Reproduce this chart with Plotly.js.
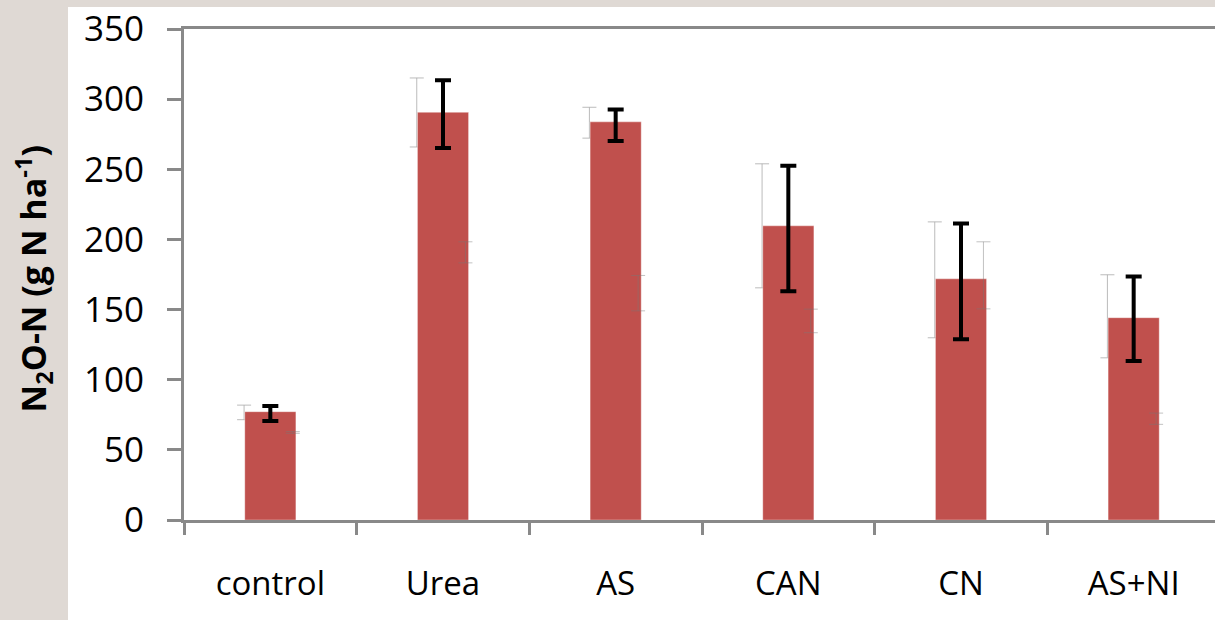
<!DOCTYPE html>
<html>
<head>
<meta charset="utf-8">
<script src="https://cdn.plot.ly/plotly-3.0.1.min.js"></script>
<style>
html,body{margin:0;padding:0;overflow:hidden;background:#DFD9D4;}
#chart{width:1225px;height:620px;}
</style>
</head>
<body>
<div id="chart"></div>
<script>
// Data
const categories = ["control", "Urea", "AS", "CAN", "CN", "AS+NI"];
const meanValues = [77.2, 290.6, 283.8, 209.7, 171.9, 144.2];
const errPlus    = [4.0, 22.8, 8.9, 42.9, 39.4, 29.4];
const errMinus   = [6.7, 25.4, 13.6, 46.6, 43.0, 30.9];

// faint secondary error bars (left of each bar)
const ghostLeftMean = [76.7, 290.5, 283.2, 209.7, 171.2, 145.2];
const ghostLeftErr  = [5.2, 24.6, 11.0, 44.2, 41.3, 29.6];
// faint secondary error bars (right of each bar)
const ghostRightMean = [62.4, 190.8, 161.7, 141.9, 174.4, 72.2];
const ghostRightErr  = [0.6, 7.5, 12.6, 8.4, 23.9, 4.0];

const yTicks = [0, 50, 100, 150, 200, 250, 300, 350];

const barColor = "#C0504D";
const axisColor = "#898989";
const fontFam = "'Open Sans', 'Liberation Sans', sans-serif";

const ghostLeft = {
  type: "bar", x: categories, y: ghostLeftMean,
  width: 0.004, offset: -0.154,
  marker: {color: "rgba(0,0,0,0)"},
  error_y: {type: "data", array: ghostLeftErr, visible: true,
            color: "rgba(170,170,170,0.8)", thickness: 1, width: 7},
  hoverinfo: "skip", showlegend: false
};
const mainBars = {
  type: "bar", x: categories, y: meanValues,
  width: 0.296,
  marker: {color: barColor, line: {color: "rgba(255,255,255,0.35)", width: 1}},
  error_y: {type: "data", symmetric: false, array: errPlus, arrayminus: errMinus,
            visible: true, color: "#000000", thickness: 4, width: 8},
  showlegend: false
};
const ghostRight = {
  type: "bar", x: categories, y: ghostRightMean,
  width: 0.004, offset: 0.128,
  marker: {color: "rgba(0,0,0,0)"},
  error_y: {type: "data", array: ghostRightErr, visible: true,
            color: "rgba(120,120,120,0.45)", thickness: 1, width: 7},
  hoverinfo: "skip", showlegend: false
};

const layout = {
  width: 1225, height: 620,
  margin: {l: 184, r: 5, t: 29, b: 100, pad: 0},
  paper_bgcolor: "#DFD9D4",
  plot_bgcolor: "#FFFFFF",
  barmode: "overlay",
  showlegend: false,
  font: {family: fontFam, color: "#000000", size: 34},
  xaxis: {
    type: "category", range: [-0.5, 5.5],
    showline: true, linecolor: axisColor, linewidth: 3, mirror: true,
    ticks: "outside", tickson: "boundaries", ticklen: 12, tickwidth: 3, tickcolor: axisColor,
    tickfont: {family: fontFam, size: 33, color: "#000"},
    ticklabelstandoff: 32,
    showgrid: false, zeroline: false, fixedrange: true
  },
  yaxis: {
    range: [0, 350], tickvals: yTicks, ticktext: yTicks.map(String),
    showline: true, linecolor: axisColor, linewidth: 3,
    ticks: "outside", ticklen: 14, tickwidth: 3, tickcolor: axisColor,
    tickfont: {family: fontFam, size: 35, color: "#000"},
    ticklabelstandoff: 16,
    showgrid: false, zeroline: false, fixedrange: true
  },
  shapes: [{
    type: "rect", xref: "paper", yref: "paper", layer: "below",
    x0: (68 - 184) / 1036, x1: 1.2, y0: -0.3, y1: 1 + 22 / 491,
    fillcolor: "#FFFFFF", line: {width: 0}
  }],
  annotations: [{
    xref: "paper", yref: "paper", x: (33 - 184) / 1036, y: 0.49,
    xanchor: "center", yanchor: "middle", textangle: -90, showarrow: false,
    text: "<b>N<sub>2</sub>O-N (g N ha<sup>-1</sup>)</b>",
    font: {family: fontFam, size: 34, color: "#000"}
  }]
};

Plotly.newPlot("chart", [ghostLeft, mainBars, ghostRight], layout, {staticPlot: true, displayModeBar: false});
</script>
</body>
</html>
